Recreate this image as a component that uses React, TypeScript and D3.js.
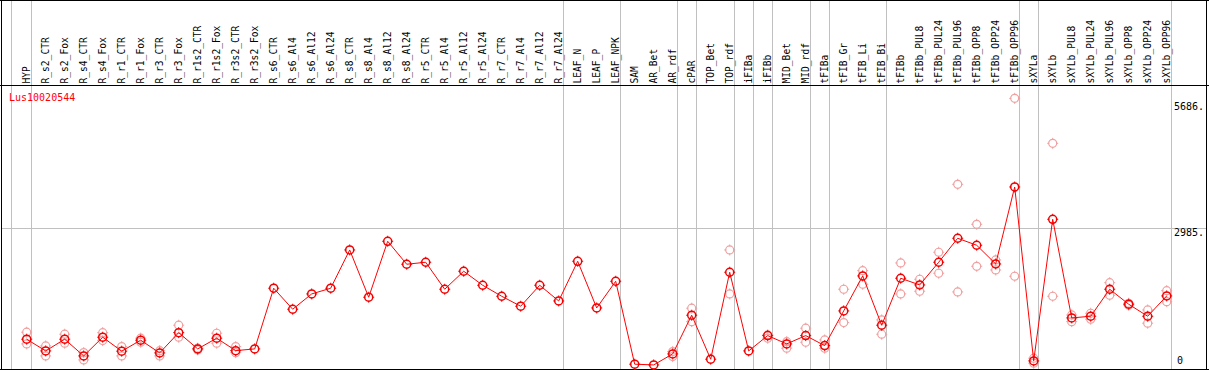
import React from "react";
import * as d3 from "d3";

const title = "Lus10020544";

const categories = [
  "HYP", "R_s2_CTR", "R_s2_Fox", "R_s4_CTR", "R_s4_Fox", "R_r1_CTR", "R_r1_Fox", "R_r3_CTR", "R_r3_Fox",
  "R_r1s2_CTR", "R_r1s2_Fox", "R_r3s2_CTR", "R_r3s2_Fox", "R_s6_CTR", "R_s6_Al4", "R_s6_Al12", "R_s6_Al24",
  "R_s8_CTR", "R_s8_Al4", "R_s8_Al12", "R_s8_Al24", "R_r5_CTR", "R_r5_Al4", "R_r5_Al12", "R_r5_Al24",
  "R_r7_CTR", "R_r7_Al4", "R_r7_Al12", "R_r7_Al24", "LEAF_N", "LEAF_P", "LEAF_NPK", "SAM", "AR_Bet", "AR_rdf",
  "cPAR", "TOP_Bet", "TOP_rdf", "iFIBa", "iFIBb", "MID_Bet", "MID_rdf", "tFIBa", "tFIB_Gr", "tFIB_Li", "tFIB_Bi",
  "tFIBb", "tFIBb_PUL8", "tFIBb_PUL24", "tFIBb_PUL96", "tFIBb_OPP8", "tFIBb_OPP24", "tFIBb_OPP96",
  "sXYLa", "sXYLb", "sXYLb_PUL8", "sXYLb_PUL24", "sXYLb_PUL96", "sXYLb_OPP8", "sXYLb_OPP24", "sXYLb_OPP96",
];

const meanValues = [
  588, 336, 588, 228, 631, 330, 567, 293, 730, 379, 610, 342, 379, 1687, 1234, 1564, 1687, 2512, 1493, 2699,
  2204, 2247, 1665, 2053, 1751, 1514, 1299, 1751, 1413, 2268, 1262, 1837, 50, 34, 271, 1105, 157, 2031, 336,
  666, 487, 666, 450, 1198, 1952, 890, 1902, 1758, 2247, 2764, 2613, 2210, 3869, 121, 3173, 1047, 1083, 1665,
  1342, 1083, 1521,
];

const repHigh: (number | null)[] = [
  739, 444, 696, 299, 730, 429, 610, 342, 890, 394, 717, 429, null, null, null, null, null, null, null, null,
  null, null, null, null, null, null, null, null, null, null, null, null, null, null, 321, 1256, null, 2512, null,
  681, 536, 825, 573, 1665, 2066, 1004, 2232, 1880, 2462, 3927, 3065, 2296, 5779, 179, 4810, 1111, 1148, 1807,
  1363, 1219, 1635,
];

const repLow: (number | null)[] = [
  487, 228, 502, 142, 558, 228, 523, 228, 631, 358, 502, 299, null, null, null, null, null, null, null, null,
  null, null, null, null, null, null, null, null, null, null, null, null, null, null, 213, 967, null, 1564, null,
  610, 394, 523, 394, 946, 1773, 696, 1564, 1622, 2010, 1607, 2160, 2081, 1945, 71, 1514, 967, 1019, 1536,
  1320, 933, 1398,
];

// index of the last column of each group (-1 = left edge)
const groupEnds = [-1, 0, 28, 31, 34, 35, 37, 38, 39, 41, 42, 45, 52, 53, 60];

const yTicks = [0, 2985, 5686];
const yTickLabels = ["0", "2985.", "5686."];

const W = 1209;
const H = 370;
const MONO = "'DejaVu Sans Mono', monospace";

function Marker({ cx, cy, color, sw }: { cx: number; cy: number; color: string; sw: number }) {
  const r = 4;
  return (
    <g stroke={color} strokeWidth={sw} fill="none">
      <circle cx={cx} cy={cy} r={r} />
      <line x1={cx} y1={cy - r - 1.5} x2={cx} y2={cy - r + 0.5} strokeWidth={1} />
      <line x1={cx} y1={cy + r - 0.5} x2={cx} y2={cy + r + 1.5} strokeWidth={1} />
      <line x1={cx - r - 1.5} y1={cy} x2={cx - r + 0.5} y2={cy} strokeWidth={1} />
      <line x1={cx + r - 0.5} y1={cy} x2={cx + r + 1.5} y2={cy} strokeWidth={1} />
    </g>
  );
}

export default function App() {
  const x = d3.scaleLinear().domain([0, categories.length - 1]).range([26.7, 1166.7]);
  const y = d3.scaleLinear().domain([0, 2985]).range([366.5, 228]);

  const line = d3
    .line<number>()
    .x((_, i) => x(i))
    .y((d) => y(d));

  const pink = "#f0a0a0";
  const red = "#ff0000";

  return (
    <svg
      width={W}
      height={H}
      style={{ position: "absolute", left: 0, top: 0, background: "#fff" }}
      xmlns="http://www.w3.org/2000/svg"
    >
      <rect x={0} y={0} width={W} height={H} fill="#fff" />
      {/* group boundary lines */}
      {groupEnds.map((g) => {
        const gx = Math.round(x(g) + (g < 0 ? 3 : 4)) + 0.5;
        return <line key={g} x1={gx} x2={gx} y1={0} y2={369} stroke="#c0c0c0" strokeWidth={1} />;
      })}
      {/* horizontal grid at middle tick */}
      <line x1={1} x2={1206} y1={Math.round(y(2985)) + 0.5} y2={Math.round(y(2985)) + 0.5} stroke="#c0c0c0" strokeWidth={1} />

      {/* frame */}
      <line x1={1.5} x2={1.5} y1={0} y2={370} stroke="#000" strokeWidth={1} />
      <line x1={1206.5} x2={1206.5} y1={0} y2={370} stroke="#000" strokeWidth={1} />
      <line x1={0} x2={1209} y1={0.5} y2={0.5} stroke="#000" strokeWidth={1} />
      <line x1={0} x2={1209} y1={85.5} y2={85.5} stroke="#000" strokeWidth={1} />
      <line x1={0} x2={1209} y1={369.5} y2={369.5} stroke="#000" strokeWidth={1} />

      {/* column labels */}
      {categories.map((c, i) => (
        <text
          key={c}
          transform={`translate(${x(i) + 3},83.5) rotate(-90)`}
          fontFamily={MONO}
          fontSize={9.6}
          fill="#000"
        >
          {c}
        </text>
      ))}

      {/* title */}
      <text x={9} y={101} fontFamily={MONO} fontSize={10} fill={red}>
        {title}
      </text>

      {/* y labels */}
      {yTicks.map((t, i) => (
        <text
          key={t}
          x={t === 0 ? 1177 : 1174}
          y={Math.min(y(t) + 7.5, 364)}
          fontFamily={MONO}
          fontSize={10}
          fill="#000"
        >
          {yTickLabels[i]}
        </text>
      ))}

      {/* replicates */}
      {repHigh.map((v, i) =>
        v == null ? null : <Marker key={"h" + i} cx={x(i)} cy={y(v)} color={pink} sw={1.2} />
      )}
      {repLow.map((v, i) =>
        v == null ? null : <Marker key={"l" + i} cx={x(i)} cy={y(v)} color={pink} sw={1.2} />
      )}

      {/* mean line */}
      <path d={line(meanValues) || ""} fill="none" stroke={red} strokeWidth={1} />
      {meanValues.map((v, i) => (
        <Marker key={"m" + i} cx={x(i)} cy={y(v)} color="#f00000" sw={1.5} />
      ))}
    </svg>
  );
}
